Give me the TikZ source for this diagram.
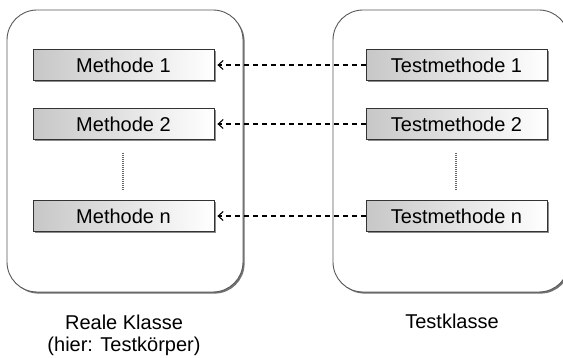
\documentclass[tikz,border=0pt]{standalone}
\usepackage{fontspec}
\setmainfont{Liberation Sans}
\usetikzlibrary{shadows,arrows.meta}
\tikzset{
  classbox/.style={draw=black!65, line width=0.9pt, fill=white, rounded corners=30pt,
    drop shadow={shadow xshift=1.6pt, shadow yshift=-1.6pt, fill=black!55, opacity=1}},
  methbox/.style={draw=black!80, line width=0.8pt, minimum width=181pt, minimum height=31pt,
    inner sep=0pt, left color=black!22, right color=white, font=\fontsize{20}{22}\selectfont,
    drop shadow={shadow xshift=2pt, shadow yshift=-2pt, fill=black!45, opacity=1}},
  calls/.style={dash pattern=on 5pt off 4pt, line width=1.1pt, -{Straight Barb[length=5pt,width=9pt,line width=1.1pt]}},
  dots/.style={black!60, line width=1.3pt, dash pattern=on 1pt off 1pt},
  caption/.style={font=\fontsize{20}{22.5}\selectfont, align=center, inner sep=0pt}
}
\begin{document}
\begin{tikzpicture}[x=1pt,y=-1pt]
\useasboundingbox (0,0) rectangle (563,358);
\clip (0,0) rectangle (563,358);
\fill[white] (0,0) rectangle (563,358);
\draw[classbox] (7,10) rectangle (243,292);
\draw[classbox] (333,10) rectangle (569,292);
\node[methbox] (m1) at (123.5,65) {Methode 1};
\node[methbox] (m2) at (123.5,124) {Methode 2};
\node[methbox] (mn) at (123.5,216) {Methode n};
\node[methbox] (t1) at (456.5,65) {Testmethode 1};
\node[methbox] (t2) at (456.5,124) {Testmethode 2};
\node[methbox] (tn) at (456.5,216) {Testmethode n};
\coordinate (d1a) at (123,153); \coordinate (d1b) at (123,190);
\coordinate (d2a) at (456,153); \coordinate (d2b) at (456,190);
\draw[dots] (d1a) -- (d1b);
\draw[dots] (d2a) -- (d2b);
\draw[calls] (t1.west) -- ([xshift=3pt]m1.east);
\draw[calls] (t2.west) -- ([xshift=3pt]m2.east);
\draw[calls] (tn.west) -- ([xshift=3pt]mn.east);
\node[caption, anchor=base] (c1) at (124,352) {Reale Klasse\\(hier: Testkörper)};
\node[caption, anchor=base] (c2) at (452,329) {Testklasse};
\end{tikzpicture}
\end{document}
